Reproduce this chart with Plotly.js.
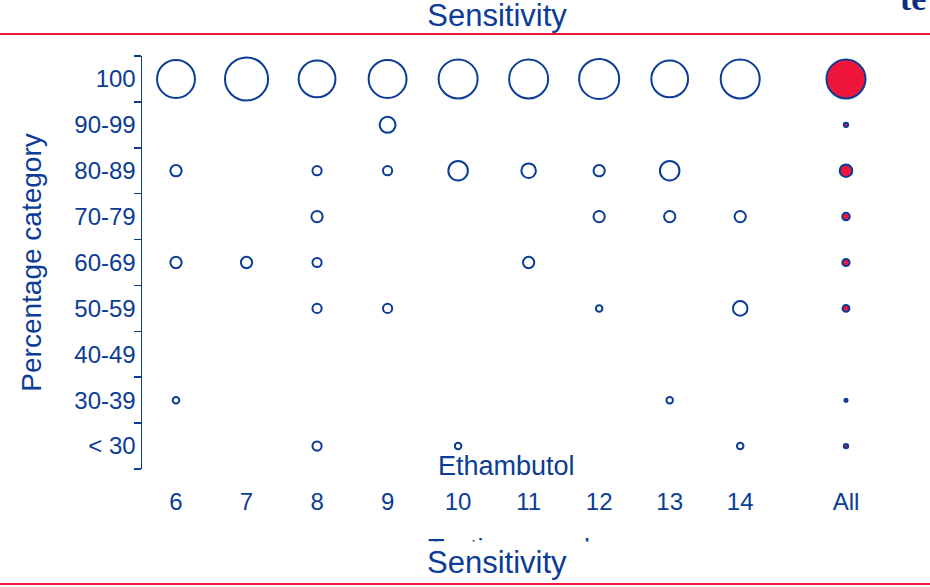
<!DOCTYPE html>
<html>
<head>
<meta charset="utf-8">
<script src="https://cdn.plot.ly/plotly-3.0.1.min.js"></script>
<style>html,body{margin:0;padding:0;background:#fff;}#chart{width:930px;height:587px;}</style>
</head>
<body>
<div id="chart"></div>
<script>
// ---- data ----
const categories = ['100', '90-99', '80-89', '70-79', '60-69', '50-59', '40-49', '30-39', '< 30'];
const roundLabels = ['6', '7', '8', '9', '10', '11', '12', '13', '14'];
const roundPositions = [6, 7, 8, 9, 10, 11, 12, 13, 14];
const allLabel = 'All';
const allPosition = 15.5;
// number of laboratories per percentage category (same order as categories)
const round6  = [34, 0, 3, 0, 3, 0, 0, 1, 0];
const round7  = [44, 0, 0, 0, 3, 0, 0, 0, 0];
const round8  = [32, 0, 2, 3, 2, 2, 0, 0, 2];
const round9  = [34, 6, 2, 0, 0, 2, 0, 0, 0];
const round10 = [36, 0, 9, 0, 0, 0, 0, 0, 1];
const round11 = [36, 0, 5, 0, 3, 0, 0, 0, 0];
const round12 = [38, 0, 3, 3, 0, 1, 0, 0, 0];
const round13 = [32, 0, 9, 3, 0, 0, 0, 1, 0];
const round14 = [36, 0, 0, 3, 0, 5, 0, 0, 1];
// all rounds: percentage of results per category
const allRounds = [80.5, 1, 8.3, 3, 2.75, 2.5, 0, 0.5, 1];

const roundData = [round6, round7, round8, round9, round10, round11, round12, round13, round14];

// ---- styling ----
const BLUE = '#0b3c96';
const RED = '#f0163a';
const FONT = 'Liberation Sans, Arial, sans-serif';
const W = 930, H = 587;
const M = {l: 142, r: 30, t: 56, b: 118};
const pw = W - M.l - M.r, ph = H - M.t - M.b;
const px = v => (v - M.l) / pw;          // pixel x -> paper
const py = v => (H - M.b - v) / ph;      // pixel y -> paper

const rx = [], ry = [], rs = [];
roundData.forEach((vals, i) => {
  vals.forEach((v, j) => {
    if (v > 0) { rx.push(roundPositions[i]); ry.push(categories[j]); rs.push(v); }
  });
});
const ax = [], ay = [], as = [];
allRounds.forEach((v, j) => {
  if (v > 0) { ax.push(allPosition); ay.push(categories[j]); as.push(v); }
});

const traces = [
  {
    type: 'scatter', mode: 'markers', x: rx, y: ry, hoverinfo: 'x+y+text', text: rs.map(String),
    marker: {size: rs, sizemode: 'area', sizeref: 2 / 42.25, opacity: 1, color: 'rgba(255,255,255,0)',
             line: {color: BLUE, width: 2}},
    showlegend: false
  },
  {
    type: 'scatter', mode: 'markers', x: ax, y: ay, hoverinfo: 'y+text', text: as.map(String),
    marker: {size: as, sizemode: 'area', sizeref: 2 / 18.9, opacity: 1, color: RED,
             line: {color: BLUE, width: 2}},
    showlegend: false
  }
];

const layout = {
  width: W, height: H,
  margin: M,
  paper_bgcolor: '#fff', plot_bgcolor: '#fff',
  font: {family: FONT, color: BLUE, size: 25},
  title: {text: 'Sensitivity', font: {family: FONT, size: 31, color: BLUE},
          xref: 'paper', x: px(497), xanchor: 'center', yref: 'container', y: 1 - 15 / H, yanchor: 'middle'},
  xaxis: {
    type: 'linear', range: [6 - 34 / 70.53, 15.5 + 54 / 70.53],
    tickvals: roundPositions.concat([allPosition]),
    ticktext: roundLabels.concat([allLabel]),
    showgrid: false, zeroline: false, showline: false,
    ticks: 'outside', ticklen: 11, tickcolor: 'rgba(0,0,0,0)',
    tickfont: {family: FONT, size: 24, color: BLUE}
  },
  yaxis: {
    type: 'category', categoryorder: 'array', categoryarray: categories.slice().reverse(),
    range: [-0.5, 8.5],
    tickson: 'boundaries', ticks: 'outside', ticklen: 7, tickwidth: 1.5, tickcolor: BLUE,
    showline: true, linecolor: BLUE, linewidth: 1.5,
    showgrid: false, zeroline: false,
    tickfont: {family: FONT, size: 24, color: BLUE},
    title: {text: 'Percentage category', font: {family: FONT, size: 28, color: BLUE}, standoff: 24}
  },
  shapes: [
    {type: 'line', xref: 'paper', yref: 'paper', x0: px(0), x1: px(W), y0: py(34), y1: py(34),
     line: {color: RED, width: 2}},
    {type: 'line', xref: 'paper', yref: 'paper', x0: px(0), x1: px(W), y0: py(584), y1: py(584),
     line: {color: RED, width: 2}}
  ],
  annotations: [
    {text: 'Ethambutol', xref: 'paper', yref: 'paper', x: px(506), y: py(466),
     xanchor: 'center', yanchor: 'middle', showarrow: false,
     font: {family: FONT, size: 27, color: BLUE}},
    {text: 'Testing round', xref: 'paper', yref: 'paper', x: px(426), y: py(532),
     xanchor: 'left', yanchor: 'top', showarrow: false,
     font: {family: FONT, size: 27, color: BLUE}},
    {text: ' ', xref: 'paper', yref: 'paper', x: px(0), y: py(541), xanchor: 'left', yanchor: 'top',
     width: W, height: 40, bgcolor: '#ffffff', borderpad: 0, showarrow: false},
    {text: 'Sensitivity', xref: 'paper', yref: 'paper', x: px(497), y: py(562),
     xanchor: 'center', yanchor: 'middle', showarrow: false,
     font: {family: FONT, size: 31, color: BLUE}},
    {text: '<b>te</b>', xref: 'paper', yref: 'paper', x: px(898), y: py(19),
     xanchor: 'left', yanchor: 'bottom', showarrow: false,
     font: {family: 'Liberation Serif, serif', size: 34, color: '#0a2f80'}}
  ]
};

Plotly.newPlot('chart', traces, layout, {staticPlot: true, displayModeBar: false});
</script>
</body>
</html>
